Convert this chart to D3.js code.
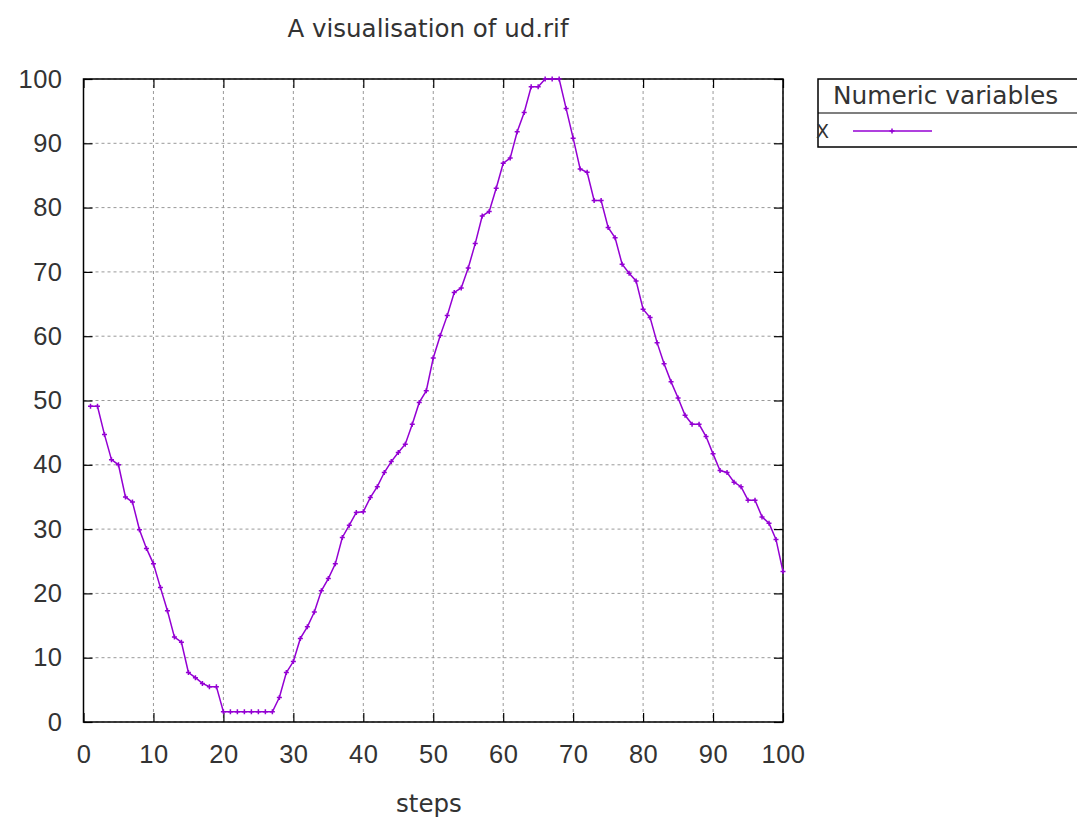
<!DOCTYPE html>
<html>
<head>
<meta charset="utf-8">
<script src="https://d3js.org/d3.v7.min.js"></script>
<style>
  body { margin: 0; background: #fff; }
  svg { display: block; font-family: "DejaVu Sans", sans-serif; }
  .tick text { fill: #333; font-size: 25.5px; letter-spacing: 0.5px; }
</style>
</head>
<body>
<svg width="1077" height="824"></svg>
<script>
// values of X, one per step (steps 1..100)
let xValues = [
    49.1, 49.1, 44.7, 40.8, 40.0, 35.0, 34.2, 29.9, 27.0, 24.6,
    20.9, 17.3, 13.2, 12.4, 7.7, 6.9, 6.0, 5.5, 5.5, 1.6,
    1.6, 1.6, 1.6, 1.6, 1.6, 1.6, 1.6, 3.8, 7.7, 9.4,
    13.0, 14.8, 17.1, 20.4, 22.3, 24.6, 28.7, 30.6, 32.6, 32.7,
    34.9, 36.6, 38.8, 40.5, 41.9, 43.2, 46.3, 49.7, 51.5, 56.6,
    60.1, 63.2, 66.8, 67.5, 70.6, 74.4, 78.7, 79.4, 83.0, 86.9,
    87.7, 91.8, 94.8, 98.8, 98.8, 100, 100, 100, 95.4, 90.8,
    86.0, 85.5, 81.1, 81.1, 76.9, 75.3, 71.2, 69.8, 68.6, 64.2,
    62.9, 59.0, 55.7, 52.9, 50.4, 47.7, 46.3, 46.3, 44.4, 41.7,
    39.1, 38.8, 37.3, 36.6, 34.5, 34.5, 31.9, 30.9, 28.4, 23.4
];
let xTicks = [0, 10, 20, 30, 40, 50, 60, 70, 80, 90, 100];
let yTicks = [0, 10, 20, 30, 40, 50, 60, 70, 80, 90, 100];
let seriesName = "X";
let legendTitle = "Numeric variables";

let svg = d3.select("svg");

let margin = {
    top:    79,
    right:  294,
    bottom: 102,
    left:   83.5
};
let width = 1077, height = 824;
let plotWidth = width - margin.left - margin.right;
let plotHeight = height - margin.top - margin.bottom;
let color = "#9400d3";

let xScale = d3.scaleLinear().domain([0, 100]).range([0, plotWidth]);
let yScale = d3.scaleLinear().domain([0, 100]).range([plotHeight, 0]);

let plot = svg.append("g")
    .attr("id", "plot")
    .attr("transform", "translate(" + margin.left + "," + margin.top + ")");

// grid (dashed)
plot.append("g").selectAll("line.vgrid")
    .data(xTicks)
    .enter().append("line")
    .attr("x1", d => xScale(d)).attr("x2", d => xScale(d))
    .attr("y1", 0).attr("y2", plotHeight)
    .attr("stroke", "#999").attr("stroke-width", 1)
    .attr("stroke-dasharray", "3,3");
plot.append("g").selectAll("line.hgrid")
    .data(yTicks)
    .enter().append("line")
    .attr("x1", 0).attr("x2", plotWidth)
    .attr("y1", d => yScale(d)).attr("y2", d => yScale(d))
    .attr("stroke", "#999").attr("stroke-width", 1)
    .attr("stroke-dasharray", "3,3");

// axes, ticks pointing inward like gnuplot
let xAxis = d3.axisBottom(xScale).tickValues(xTicks).tickSize(-9).tickPadding(23);
let yAxis = d3.axisLeft(yScale).tickValues(yTicks).tickSize(-9).tickPadding(21);

plot.append("g").attr("id", "x-axis")
    .attr("transform", "translate(0," + plotHeight + ")")
    .call(xAxis);
plot.append("g").attr("id", "y-axis").call(yAxis);

plot.append("g").attr("id", "x-top")
    .call(d3.axisTop(xScale).tickValues(xTicks).tickSize(-9).tickFormat(""));
plot.append("g").attr("id", "y-right")
    .attr("transform", "translate(" + plotWidth + ",0)")
    .call(d3.axisRight(yScale).tickValues(yTicks).tickSize(-9).tickFormat(""));

plot.selectAll(".domain").remove();
plot.selectAll(".tick line").attr("stroke", "#000").attr("stroke-width", 1.2);

// border
plot.append("rect")
    .attr("x", 0).attr("y", 0)
    .attr("width", plotWidth).attr("height", plotHeight)
    .attr("fill", "none").attr("stroke", "#000").attr("stroke-width", 1.5);

// the series
let points = xValues.map((v, i) => ({step: i + 1, value: v}));

let line = d3.line()
    .x(d => xScale(d.step))
    .y(d => yScale(d.value));

plot.append("path")
    .datum(points)
    .attr("fill", "none")
    .attr("stroke", color)
    .attr("stroke-width", 1.5)
    .attr("d", line);

plot.selectAll("path.marker")
    .data(points)
    .enter().append("path")
    .attr("class", "marker")
    .attr("transform", d => "translate(" + xScale(d.step) + "," + yScale(d.value) + ")")
    .attr("d", "M-2.5,0H2.5M0,-2.5V2.5")
    .attr("stroke", color)
    .attr("stroke-width", 1.5);

// title + x label
svg.append("text")
    .attr("x", 428).attr("y", 37)
    .attr("text-anchor", "middle")
    .style("font-size", "24.5px")
    .attr("fill", "#333")
    .text("A visualisation of ud.rif");

svg.append("text")
    .attr("x", 429).attr("y", 812)
    .attr("text-anchor", "middle")
    .style("font-size", "24.5px")
    .attr("fill", "#333")
    .text("steps");

// legend
let legend = svg.append("g").attr("id", "legend")
    .attr("transform", "translate(818,79)");

legend.append("rect")
    .attr("width", 280).attr("height", 68)
    .attr("fill", "#fff").attr("stroke", "#000").attr("stroke-width", 1.5);
legend.append("line")
    .attr("x1", 0).attr("x2", 280)
    .attr("y1", 34).attr("y2", 34)
    .attr("stroke", "#000").attr("stroke-width", 1.2);
legend.append("text")
    .attr("x", 15).attr("y", 25)
    .style("font-size", "24.8px")
    .attr("fill", "#333")
    .text(legendTitle);
legend.append("text")
    .attr("x", -2).attr("y", 59)
    .style("font-size", "19px")
    .attr("fill", "#333")
    .text(seriesName);
legend.append("line")
    .attr("x1", 35).attr("x2", 114)
    .attr("y1", 52).attr("y2", 52)
    .attr("stroke", color).attr("stroke-width", 1.5);
legend.append("path")
    .attr("transform", "translate(74,52)")
    .attr("d", "M-2.5,0H2.5M0,-2.5V2.5")
    .attr("stroke", color).attr("stroke-width", 1.5);
</script>
</body>
</html>
